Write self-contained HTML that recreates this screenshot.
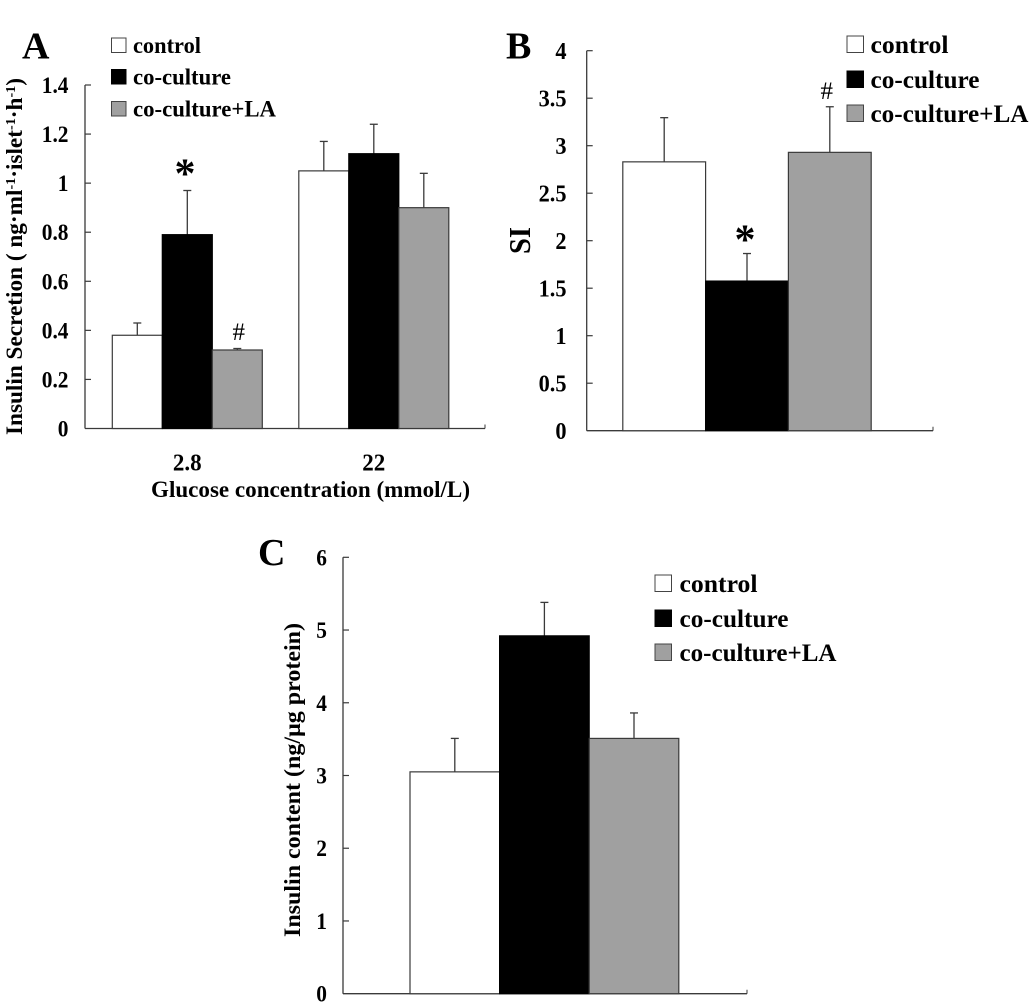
<!DOCTYPE html>
<html>
<head>
<meta charset="utf-8">
<title>Insulin secretion, stimulation index and insulin content</title>
<style>
html,body{margin:0;padding:0;background:#fff;}
svg{display:block;}
text{font-family:"Liberation Serif",serif;font-weight:bold;fill:#000;}
</style>
</head>
<body>
<svg id="figure" xmlns="http://www.w3.org/2000/svg" width="1033" height="1007" viewBox="0 0 1033 1007"></svg>
<script>
// Panel A data
const aCategories = ['2.8', '22'];
const aControl = [0.38, 1.05];
const aCoculture = [0.79, 1.12];
const aCocultureLA = [0.32, 0.90];
const aControlErr = [0.05, 0.12];
const aCocultureErr = [0.18, 0.12];
const aCocultureLAErr = [0.006, 0.14];
const aTickLabels = ['0', '0.2', '0.4', '0.6', '0.8', '1', '1.2', '1.4'];
const aTickValues = [0, 0.2, 0.4, 0.6, 0.8, 1, 1.2, 1.4];

// Panel B data
const bControl = [2.83];
const bCoculture = [1.575];
const bCocultureLA = [2.93];
const bControlErr = [0.465];
const bCocultureErr = [0.29];
const bCocultureLAErr = [0.48];
const bTickLabels = ['0', '0.5', '1', '1.5', '2', '2.5', '3', '3.5', '4'];
const bTickValues = [0, 0.5, 1, 1.5, 2, 2.5, 3, 3.5, 4];

// Panel C data
const cControl = [3.05];
const cCoculture = [4.92];
const cCocultureLA = [3.51];
const cControlErr = [0.46];
const cCocultureErr = [0.46];
const cCocultureLAErr = [0.35];
const cTickLabels = ['0', '1', '2', '3', '4', '5', '6'];
const cTickValues = [0, 1, 2, 3, 4, 5, 6];

const seriesNames = ['control', 'co-culture', 'co-culture+LA'];
const seriesFills = ['#ffffff', '#000000', '#a0a0a0'];
const STROKE = '#3a3a3a';
const NS = 'http://www.w3.org/2000/svg';
const root = document.getElementById('figure');

function make(parent, tag, attrs, text) {
  const el = document.createElementNS(NS, tag);
  for (const k in attrs) el.setAttribute(k, attrs[k]);
  if (text !== undefined) el.textContent = text;
  parent.appendChild(el);
  return el;
}

function squeeze(el, factor) {
  el.setAttribute('textLength', el.getComputedTextLength() * factor);
  el.setAttribute('lengthAdjust', 'spacingAndGlyphs');
}

function drawPanel(panelName, p, groups, ticks, labels) {
  const g = make(root, 'g', {});
  
  

  const yOf = function (v) {
    return p.zeroY - (v / p.maxValue) * (p.zeroY - p.topY);
  };
  const xOf = function (group, series) {
    return p.firstBarX + group * p.groupStep + series * p.barWidth;
  };

  // y axis and x axis
  const yAxis = make(g, 'line', {x1: p.axisX, x2: p.axisX, y1: p.topY, y2: p.zeroY, stroke: STROKE, 'stroke-width': 1.3});
  
  
  const xAxis = make(g, 'line', {x1: p.axisX, x2: p.axisEnd, y1: p.zeroY, y2: p.zeroY, stroke: STROKE, 'stroke-width': 1.3});
  
  
  const endTick = make(g, 'line', {x1: p.axisEnd, x2: p.axisEnd, y1: p.zeroY - 4, y2: p.zeroY, stroke: STROKE, 'stroke-width': 1});
  
  

  ticks.forEach(function (v, i) {
    const y = yOf(v);
    if (v !== 0) {
      const t = make(g, 'line', {x1: p.axisX, x2: p.axisX + 6, y1: y, y2: y, stroke: STROKE, 'stroke-width': 1.2});
      
      
    }
    const lab = make(g, 'text', {x: p.tickLabelX, y: y + p.tickLabelDy, 'text-anchor': 'end', 'font-size': p.tickFont}, labels[i]);
    
    
    squeeze(lab, 0.93);
  });

  groups.forEach(function (series, s) {
    series.values.forEach(function (v, gi) {
      const x = xOf(gi, s);
      const cx = x + p.barWidth / 2;
      const top = yOf(v);
      const errTop = yOf(v + series.errs[gi]);
      const stem = make(g, 'line', {x1: cx, x2: cx, y1: top, y2: errTop, stroke: STROKE, 'stroke-width': 1.3});
      
      
      const cap = make(g, 'line', {x1: cx - 4, x2: cx + 4, y1: errTop, y2: errTop, stroke: STROKE, 'stroke-width': 1.3});
      
      
      const bar = make(g, 'rect', {x: x, y: top, width: p.barWidth, height: p.zeroY - top, fill: seriesFills[s], stroke: s === 1 ? '#000' : STROKE, 'stroke-width': 1.2});
      
      
    });
  });

  seriesNames.forEach(function (name, i) {
    const leg = p.legend;
    const item = make(g, 'g', {});
    
    
    make(item, 'rect', {x: leg.x, y: leg.rows[i], width: leg.box, height: leg.box, fill: seriesFills[i], stroke: i === 1 ? '#000' : '#444', 'stroke-width': 1});
    make(item, 'text', {x: leg.textX, y: leg.rows[i] + leg.box + 0.5, 'font-size': leg.font, textLength: leg.widths[i], lengthAdjust: 'spacingAndGlyphs'}, name);
  });
}

drawPanel('panel-a', {
  axisX: 85, axisEnd: 485, topY: 85, zeroY: 428.5, maxValue: 1.4,
  firstBarX: 112.3, barWidth: 50, groupStep: 186.5,
  tickLabelX: 68.5, tickLabelDy: 8, tickFont: 23,
  legend: {x: 111.5, box: 14.5, textX: 133, rows: [38, 69.5, 101.5], font: 23.5, widths: [68, 98, 143]}
}, [
  {name: 'control', values: aControl, errs: aControlErr},
  {name: 'co-culture', values: aCoculture, errs: aCocultureErr},
  {name: 'co-culture-la', values: aCocultureLA, errs: aCocultureLAErr}
], aTickValues, aTickLabels);

drawPanel('panel-b', {
  axisX: 586.7, axisEnd: 933, topY: 50.7, zeroY: 430.7, maxValue: 4,
  firstBarX: 622.8, barWidth: 82.8, groupStep: 0,
  tickLabelX: 566.5, tickLabelDy: 8.5, tickFont: 24,
  legend: {x: 847, box: 16.5, textX: 870.5, rows: [36, 71, 105], font: 25.5, widths: [78, 109, 158]}
}, [
  {name: 'control', values: bControl, errs: bControlErr},
  {name: 'co-culture', values: bCoculture, errs: bCocultureErr},
  {name: 'co-culture-la', values: bCocultureLA, errs: bCocultureLAErr}
], bTickValues, bTickLabels);

drawPanel('panel-c', {
  axisX: 343, axisEnd: 747, topY: 557.3, zeroY: 993.7, maxValue: 6,
  firstBarX: 410, barWidth: 89.6, groupStep: 0,
  tickLabelX: 327, tickLabelDy: 8, tickFont: 23,
  legend: {x: 655, box: 16.5, textX: 679.5, rows: [575, 610, 644], font: 25.5, widths: [78, 109, 157]}
}, [
  {name: 'control', values: cControl, errs: cControlErr},
  {name: 'co-culture', values: cCoculture, errs: cCocultureErr},
  {name: 'co-culture-la', values: cCocultureLA, errs: cCocultureLAErr}
], cTickValues, cTickLabels);

// Category labels on panel A, centred beneath each bar cluster
aCategories.forEach(function (label, i) {
  const cat = make(root, 'text', {x: 187.3 + i * 186.5, y: 470.5, 'text-anchor': 'middle', 'font-size': 24}, label);
  
  
  squeeze(cat, 0.96);
});
</script>
<script>
(function () {
  const svg = document.getElementById('figure');
  const ns = 'http://www.w3.org/2000/svg';
  const markup = `
  <text x="22" y="58.5" font-size="38">A</text>
  <text x="506" y="58.5" font-size="38">B</text>
  <text x="258" y="565" font-size="38">C</text>
  <text x="151" y="497" font-size="23.5" textLength="319" lengthAdjust="spacingAndGlyphs">Glucose concentration (mmol/L)</text>
  <text transform="translate(22,435) rotate(-90)" font-size="23" x="0" y="0" textLength="357" lengthAdjust="spacingAndGlyphs">Insulin Secretion ( ng·ml<tspan dy="-7" font-size="14">-1</tspan><tspan dy="7">·islet</tspan><tspan dy="-7" font-size="14">-1</tspan><tspan dy="7">·h</tspan><tspan dy="-7" font-size="14">-1</tspan><tspan dy="7">)</tspan></text>
  <text transform="translate(530,254) rotate(-90)" font-size="31" x="0" y="0" textLength="27" lengthAdjust="spacingAndGlyphs">SI</text>
  <text transform="translate(300,937) rotate(-90)" font-size="23.5" x="0" y="0" textLength="314" lengthAdjust="spacingAndGlyphs">Insulin content (ng/µg protein)</text>
  <text x="174.5" y="187.7" font-size="42">*</text>
  <text x="232.5" y="340" font-size="25" style="font-weight:normal">#</text>
  <text x="734.5" y="253.7" font-size="42">*</text>
  <text x="820.5" y="99" font-size="25" style="font-weight:normal">#</text>`;
  const holder = document.createElementNS(ns, 'g');
  
  
  holder.innerHTML = markup;
  svg.appendChild(holder);
})();
</script>
</body>
</html>
